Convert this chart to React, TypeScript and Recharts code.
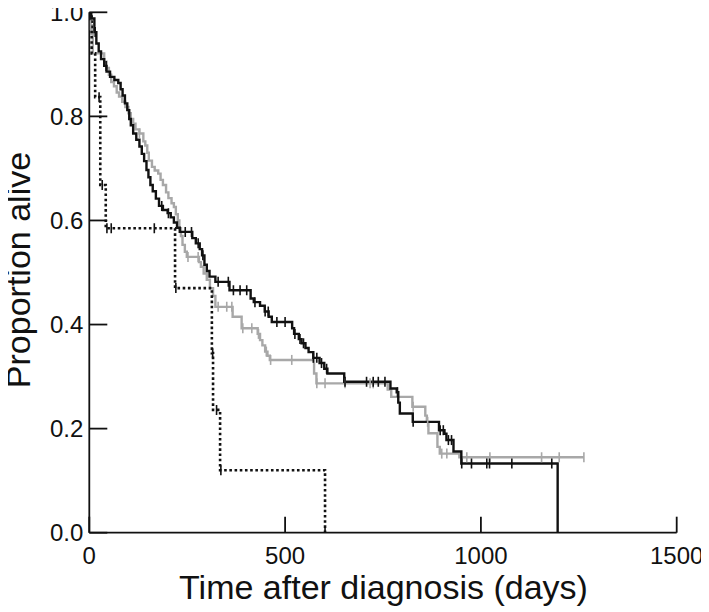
import React from 'react';
import { ComposedChart, Line, Scatter, XAxis, YAxis, Label } from 'recharts';

const X_TICKS = [0, 500, 1000, 1500];
const Y_TICKS = [0, 0.2, 0.4, 0.6, 0.8, 1.0];

// Larger group (black solid): step points [day, proportion alive]
const blackDays = [0, 5, 13, 18, 24, 30, 38, 44, 53, 64, 74, 80, 85, 91, 97, 102, 106, 112, 120, 128, 134, 140, 146, 151, 156, 162, 170, 178, 188, 200, 208, 216, 224, 231, 263, 272, 282, 288, 294, 300, 307, 322, 358, 412, 420, 436, 448, 458, 466, 518, 523, 535, 542, 552, 560, 572, 588, 600, 608, 651, 769, 785, 789, 793, 826, 893, 907, 912, 930, 950, 1196];
const blackSurv = [1.0, 0.988, 0.962, 0.94, 0.925, 0.91, 0.897, 0.886, 0.876, 0.87, 0.864, 0.852, 0.84, 0.825, 0.812, 0.795, 0.783, 0.767, 0.755, 0.742, 0.728, 0.714, 0.697, 0.683, 0.668, 0.656, 0.642, 0.628, 0.62, 0.614, 0.606, 0.596, 0.586, 0.578, 0.566, 0.556, 0.545, 0.533, 0.515, 0.503, 0.492, 0.482, 0.466, 0.45, 0.443, 0.436, 0.425, 0.415, 0.405, 0.393, 0.382, 0.372, 0.364, 0.355, 0.347, 0.336, 0.326, 0.315, 0.306, 0.29, 0.277, 0.27, 0.25, 0.229, 0.213, 0.197, 0.19, 0.178, 0.156, 0.133, 0.0];
const blackCensor = [15, 43, 185, 202, 245, 261, 278, 290, 329, 355, 368, 385, 402, 423, 449, 457, 479, 500, 525, 538, 547, 572, 581, 593, 606, 653, 708, 725, 738, 755, 787, 827, 896, 904, 917, 925, 951, 976, 1015, 1022, 1079, 1181];

// Second group (grey solid)
const greyDays = [0, 3, 6, 9, 38, 44, 50, 56, 63, 70, 76, 84, 92, 100, 106, 112, 118, 128, 138, 143, 148, 152, 160, 167, 176, 182, 188, 196, 202, 210, 216, 221, 226, 230, 234, 238, 244, 249, 280, 285, 292, 300, 308, 316, 322, 366, 389, 430, 436, 442, 449, 455, 461, 574, 580, 762, 771, 825, 858, 862, 866, 889, 895, 945, 1263];
const greySurv = [1.0, 0.975, 0.958, 0.921, 0.905, 0.893, 0.88, 0.866, 0.858, 0.846, 0.838, 0.828, 0.818, 0.806, 0.795, 0.786, 0.775, 0.767, 0.752, 0.744, 0.73, 0.715, 0.703, 0.696, 0.69, 0.678, 0.668, 0.654, 0.643, 0.633, 0.626, 0.612, 0.6, 0.585, 0.57, 0.553, 0.54, 0.53, 0.52, 0.511, 0.498, 0.486, 0.47, 0.455, 0.434, 0.415, 0.393, 0.382, 0.37, 0.36, 0.348, 0.34, 0.332, 0.306, 0.287, 0.275, 0.261, 0.242, 0.225, 0.213, 0.191, 0.165, 0.152, 0.145, 0.145];
const greyCensor = [3, 128, 252, 278, 329, 351, 364, 392, 415, 432, 452, 463, 517, 581, 602, 653, 717, 725, 827, 864, 900, 913, 964, 1023, 1155, 1200, 1263];

// Small group (black dotted)
const dottedDays = [0, 6, 15, 28, 42, 219, 313, 316, 334, 602];
const dottedSurv = [1.0, 0.921, 0.837, 0.668, 0.585, 0.47, 0.345, 0.236, 0.12, 0.0];
const dottedCensor = [25, 33, 45, 56, 166, 221, 315, 325, 336, 602];

const toPoints = (days: number[], surv: number[]) => days.map((d, i) => ({ x: d, y: surv[i] }));
const stepValue = (days: number[], surv: number[], d: number) => {
  let v = surv[0];
  for (let i = 0; i < days.length; i++) if (days[i] <= d) v = surv[i];
  return v;
};
const toCensor = (days: number[], surv: number[], cens: number[]) =>
  cens.map((d) => ({ x: d, y: stepValue(days, surv, d) }));

const blackData = toPoints(blackDays, blackSurv);
const greyData = toPoints(greyDays, greySurv);
const dottedData = toPoints(dottedDays, dottedSurv);

const FONT = '"Liberation Sans", Arial, sans-serif';
const GREY = '#a8a8a8';
const INK = '#111111';

const censorShape = (color: string, w: number) => (props: any) => {
  const { cx, cy } = props;
  if (cx == null || cy == null) return <g />;
  return <line x1={cx} x2={cx} y1={cy - 5} y2={cy + 5} stroke={color} strokeWidth={w} />;
};

export default function App() {
  return (
    <div style={{ width: 709, height: 612, marginTop: -8, marginLeft: -8 }}>
      <ComposedChart width={709} height={612} margin={{ top: 12.3, right: 32.3, bottom: 0, left: 0 }} style={{ overflow: 'visible' }}>
        <XAxis
          type="number"
          dataKey="x"
          domain={[0, 1500]}
          ticks={X_TICKS}
          interval={0}
          allowDataOverflow
          height={79.3}
          tickSize={-16}
          tickMargin={30}
          stroke={INK}
          strokeWidth={1.8}
          tick={{ fill: INK, fontSize: 24, fontFamily: FONT }}
          tickLine={{ stroke: INK, strokeWidth: 1.8 }}
        >
          <Label
            content={(p: any) => {
              const vb = p.viewBox || {};
              return (
                <text x={vb.x + vb.width / 2 + 0.5} y={vb.y + 66.3} textAnchor="middle" fontSize={34} fontFamily={FONT} fill={INK}>
                  Time after diagnosis (days)
                </text>
              );
            }}
          />
        </XAxis>
        <YAxis
          type="number"
          dataKey="y"
          domain={[0, 1]}
          ticks={Y_TICKS}
          interval={0}
          allowDataOverflow
          width={89.3}
          tickSize={-18}
          tickMargin={24}
          stroke={INK}
          strokeWidth={1.8}
          tickFormatter={(v: number) => v.toFixed(1)}
          tick={{ fill: INK, fontSize: 24, fontFamily: FONT }}
          tickLine={{ stroke: INK, strokeWidth: 1.8 }}
        >
          <Label
            content={(p: any) => {
              const vb = p.viewBox || {};
              const cx = 29.5;
              const cy = vb.y + vb.height / 2 - 2.5;
              return (
                <text x={cx} y={cy} transform={`rotate(-90, ${cx}, ${cy})`} textAnchor="middle" fontSize={34} fontFamily={FONT} fill={INK}>
                  Proportion alive
                </text>
              );
            }}
          />
        </YAxis>
        <Line data={greyData} dataKey="y" type="stepAfter" stroke={GREY} strokeWidth={2.4} dot={false} activeDot={false} isAnimationActive={false} />
        <Scatter data={toCensor(greyDays, greySurv, greyCensor)} dataKey="y" shape={censorShape(GREY, 1.6)} isAnimationActive={false} />
        <Line data={blackData} dataKey="y" type="stepAfter" stroke={INK} strokeWidth={2.4} dot={false} activeDot={false} isAnimationActive={false} />
        <Scatter data={toCensor(blackDays, blackSurv, blackCensor)} dataKey="y" shape={censorShape(INK, 1.6)} isAnimationActive={false} />
        <Line data={dottedData} dataKey="y" type="stepAfter" stroke={INK} strokeWidth={2.6} strokeDasharray="2.6 2.6" dot={false} activeDot={false} isAnimationActive={false} />
        <Scatter data={toCensor(dottedDays, dottedSurv, dottedCensor)} dataKey="y" shape={censorShape(INK, 1.6)} isAnimationActive={false} />
      </ComposedChart>
    </div>
  );
}
